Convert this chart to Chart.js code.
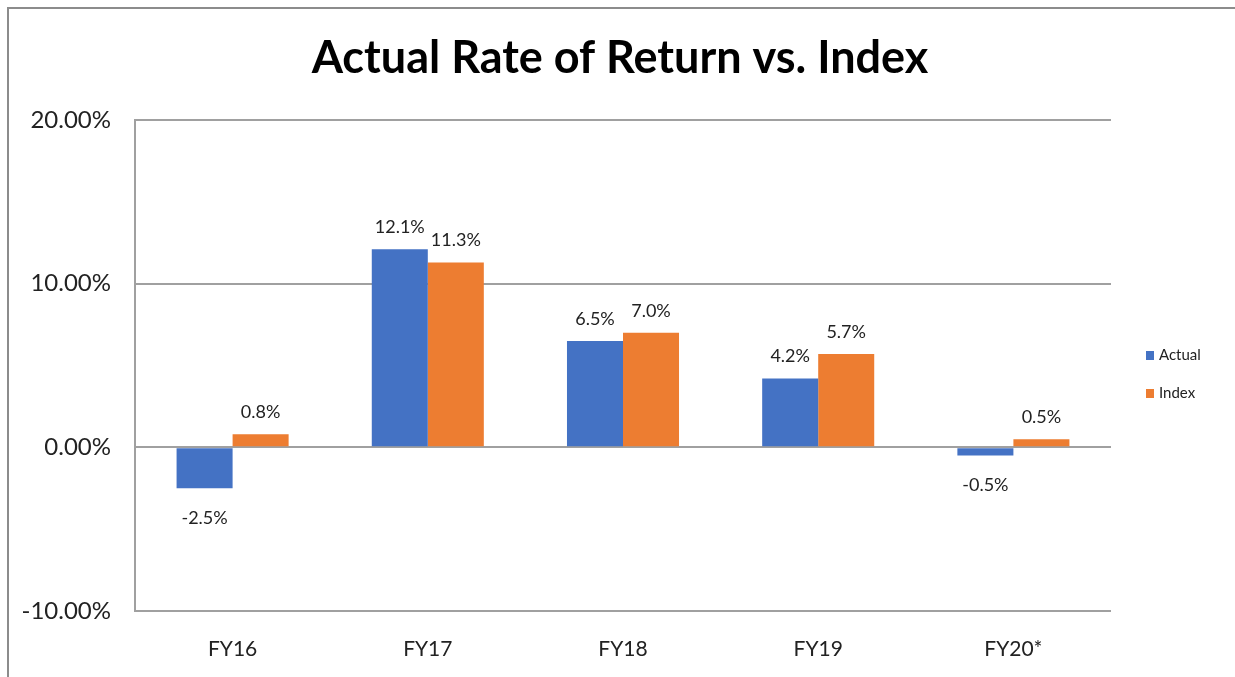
<!DOCTYPE html>
<html>
<head>
<meta charset="utf-8">
<script src="https://cdn.jsdelivr.net/npm/chart.js@4/dist/chart.umd.min.js"></script>
<style>
  html, body { margin: 0; padding: 0; background: #fff; }
  #wrap { position: relative; width: 1235px; height: 677px; overflow: hidden; }
  #frame { position: absolute; left: 7px; top: 7px; right: -10px; bottom: -10px;
           border-top: 2px solid #8c8c8c; border-left: 2px solid #8c8c8c; }
  canvas { position: absolute; left: 0; top: 0; }
</style>
</head>
<body>
<div id="wrap">
  <div id="frame"></div>
  <canvas id="c" width="1235" height="677"></canvas>
</div>
<script>
const chartTitle = 'Actual Rate of Return vs. Index';
const categories = ['FY16', 'FY17', 'FY18', 'FY19', 'FY20*'];
const actualValues = [-2.5, 12.1, 6.5, 4.2, -0.5];
const indexValues = [0.8, 11.3, 7.0, 5.7, 0.5];
const seriesNames = ['Actual', 'Index'];
const yTicks = [-10, 0, 10, 20];

const FONT = 'Lato, Carlito, Calibri, sans-serif';
const BLUE = '#4472C4';
const ORANGE = '#ED7D31';

const titlePlugin = {
  id: 'customTitle',
  afterDraw(chart) {
    const ctx = chart.ctx;
    ctx.save();
    ctx.fillStyle = '#000';
    ctx.font = 'bold 45px ' + FONT;
    ctx.textAlign = 'center';
    ctx.textBaseline = 'middle';
    ctx.fillText(chartTitle, 620, 58);
    ctx.restore();
  }
};

const legendPlugin = {
  id: 'customLegend',
  afterDraw(chart) {
    const ctx = chart.ctx;
    ctx.save();
    ctx.font = '15px ' + FONT;
    ctx.textBaseline = 'middle';
    ctx.textAlign = 'left';
    chart.data.datasets.forEach((ds, i) => {
      const y = 355 + i * 38;
      ctx.fillStyle = ds.backgroundColor;
      ctx.fillRect(1146, y - 4, 8, 9);
      ctx.fillStyle = '#222';
      ctx.fillText(ds.label, 1159, y);
    });
    ctx.restore();
  }
};

const labelPlugin = {
  id: 'barLabels',
  afterDatasetsDraw(chart) {
    const ctx = chart.ctx;
    ctx.save();
    ctx.font = '18px ' + FONT;
    ctx.fillStyle = '#222';
    ctx.textAlign = 'center';
    ctx.textBaseline = 'middle';
    chart.data.datasets.forEach((ds, di) => {
      const meta = chart.getDatasetMeta(di);
      meta.data.forEach((bar, i) => {
        const v = ds.data[i];
        const txt = v.toFixed(1) + '%';
        if (v >= 0) {
          ctx.fillText(txt, bar.x, bar.y - 22);
        } else {
          ctx.fillText(txt, bar.x, bar.y + 30);
        }
      });
    });
    ctx.restore();
  }
};

new Chart(document.getElementById('c'), {
  type: 'bar',
  data: {
    labels: categories,
    datasets: [
      { label: seriesNames[0], data: actualValues, backgroundColor: BLUE, borderWidth: 0 },
      { label: seriesNames[1], data: indexValues, backgroundColor: ORANGE, borderWidth: 0 }
    ]
  },
  options: {
    responsive: false,
    animation: false,
    devicePixelRatio: 1,
    layout: { padding: { top: 120, right: 124, bottom: 0, left: 0 } },
    plugins: { legend: { display: false }, title: { display: false }, tooltip: { enabled: false } },
    datasets: { bar: { categoryPercentage: 0.574, barPercentage: 1.0 } },
    scales: {
      x: {
        grid: { display: false, drawTicks: false },
        border: { display: false },
        ticks: { font: { family: FONT, size: 21 }, color: '#222', padding: 26 },
        afterFit(scale) { scale.height = 66; }
      },
      y: {
        min: -10, max: 20,
        afterBuildTicks(scale) { scale.ticks = yTicks.map(v => ({ value: v })); },
        grid: { color: '#a0a0a0', lineWidth: 2, drawTicks: false },
        border: { display: true, color: '#a0a0a0', width: 2 },
        ticks: {
          font: { family: FONT, size: 24 }, color: '#222', padding: 24,
          callback: v => v.toFixed(2) + '%'
        },
        afterFit(scale) { scale.width = 135; }
      }
    }
  },
  plugins: [labelPlugin, titlePlugin, legendPlugin]
});
</script>
</body>
</html>
